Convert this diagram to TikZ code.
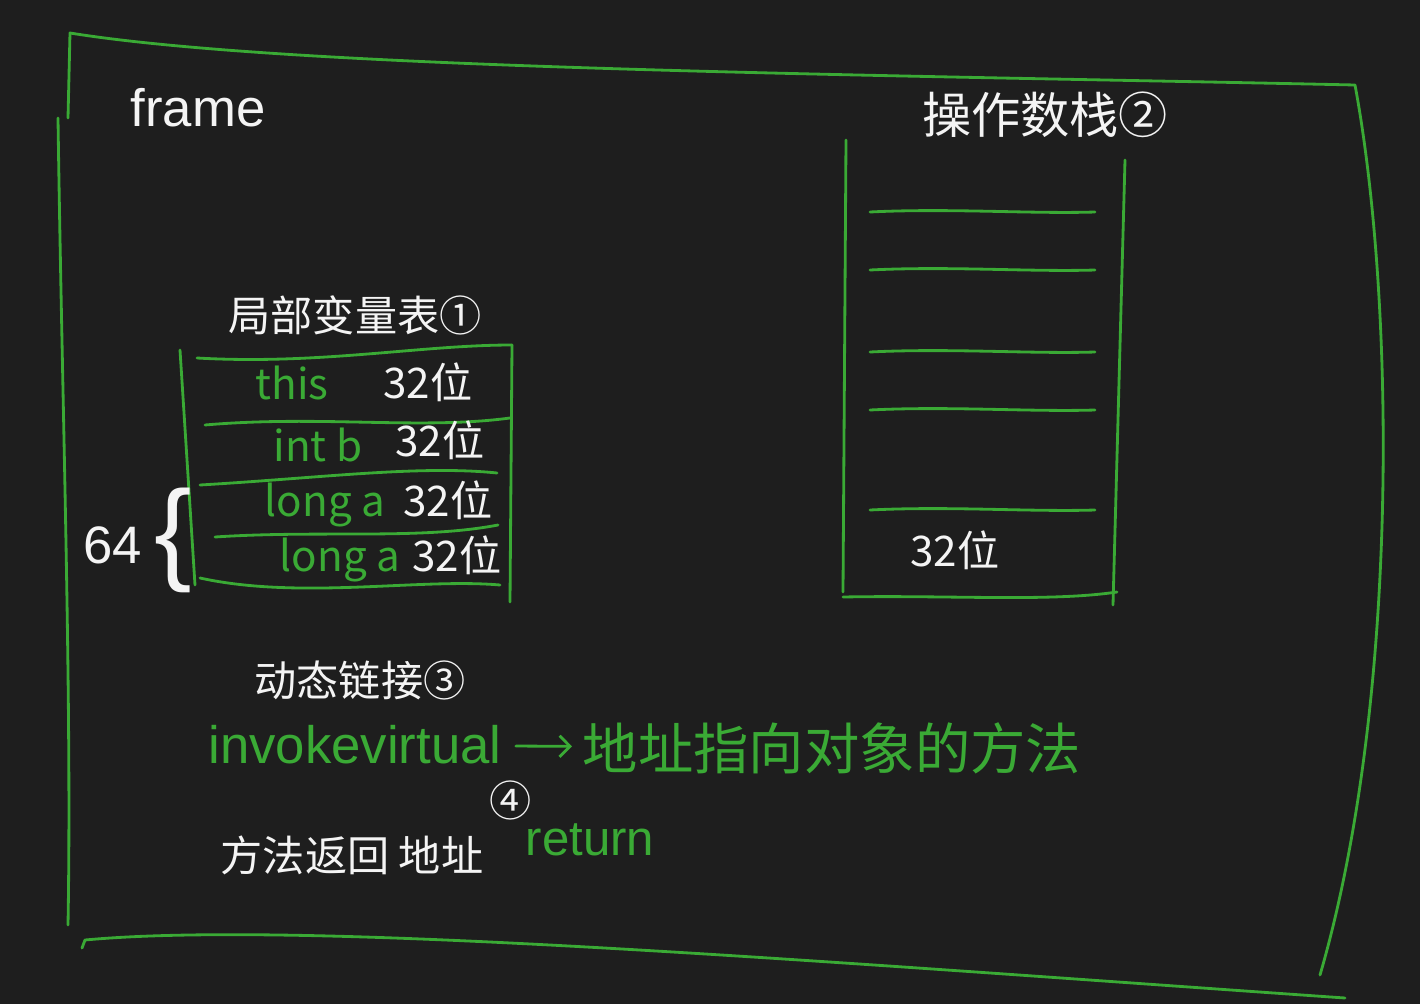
\documentclass[tikz,border=0pt]{standalone}
\usepackage{fontspec}
\setmainfont{Liberation Sans}
\newfontfamily\cjk{Noto Sans CJK SC}
\usetikzlibrary{positioning, arrows.meta}
\definecolor{board}{HTML}{1E1E1E}
\definecolor{chalk}{HTML}{F4F4F4}
\definecolor{pen}{HTML}{3AAA35}

\begin{document}
\begin{tikzpicture}[x=0.02cm, y=-0.02cm,
    penline/.style={draw=pen, line width=1.6pt, line cap=round, line join=round},
    wlabel/.style={text=chalk, inner sep=0pt, font=\cjk\fontsize{24}{28}\selectfont},
    glabel/.style={text=pen, inner sep=0pt, font=\cjk\fontsize{24}{28}\selectfont}]
    \fill[board] (0,0) rectangle (1420,1004);
    \useasboundingbox (0,0) rectangle (1420,1004);

    % frame outline
    \draw[penline] (68,118) -- (70,33) .. controls (300,70) and (900,75) .. (1355,85)
      .. controls (1395,300) and (1400,700) .. (1320,975);
    \draw[penline] (58,118) .. controls (62,400) and (72,700) .. (68,925);
    \draw[penline] (82,948) -- (85,940) .. controls (300,920) and (800,960) .. (1345,998);
    \node[wlabel, font=\fontsize{30}{34}\selectfont] (frame) at (198,108) {frame};

    % local variable table
    \node[wlabel] (lvt) at (355,315) {局部变量表①};
    \draw[penline] (180,350) -- (195,585);
    \draw[penline] (512,345) -- (510,602);
    \draw[penline] (197,358) .. controls (320,365) and (420,345) .. (512,345);
    \draw[penline] (205,425) .. controls (320,415) and (420,430) .. (510,418);
    \draw[penline] (200,485) .. controls (320,478) and (420,465) .. (497,473);
    \draw[penline] (215,537) .. controls (320,530) and (420,540) .. (498,525);
    \draw[penline] (200,578) .. controls (300,600) and (420,578) .. (500,585);
    \node[glabel] (this) at (292,383) {this};
    \node[wlabel] (w1) at (428,382) {32位};
    \node[glabel] (intb) at (318,445) {int b};
    \node[wlabel] (w2) at (440,440) {32位};
    \node[glabel] (longa1) at (325,505) {long a};
    \node[wlabel] (w3) at (448,500) {32位};
    \node[glabel] (longa2) at (340,560) {long a};
    \node[wlabel] (w4) at (457,555) {32位};
    \node[text=chalk, inner sep=0pt, font=\fontsize{64}{64}\selectfont] (brace) at (173,540) {\{};
    \node[wlabel, font=\fontsize{30}{34}\selectfont] (sixtyfour) at (113,545) {64};

    % operand stack
    \node[wlabel, font=\cjk\fontsize{28}{32}\selectfont] (stack) at (1045,115) {操作数栈②};
    \draw[penline] (846,140) -- (843,592);
    \draw[penline] (1125,160) -- (1113,605);
    \foreach \y in {212,270,352,410,510}
      \draw[penline] (870,\y) .. controls (950,\y-4) and (1030,\y+2) .. (1095,\y);
    \draw[penline] (843,597) .. controls (950,595) and (1050,602) .. (1117,592);
    \node[wlabel] (w5) at (955,550) {32位};

    % dynamic linking
    \node[wlabel] (dyn) at (360,680) {动态链接③};
    \node[glabel, font=\fontsize{30}{34}\selectfont] (invoke) at (355,745) {invokevirtual};
    \node[glabel, font=\cjk\fontsize{31.5}{36}\selectfont] (target) at (832,748) {地址指向对象的方法};
    \draw[penline, -{Straight Barb[length=6pt]}, shorten <=8pt, shorten >=6pt] (invoke) -- (target);

    % return address
    \node[wlabel] (ret) at (352,855) {方法返回\ 地址};
    \node[wlabel] (four) at (511,800) {④};
    \node[glabel, font=\fontsize{28}{32}\selectfont] (return) at (590,840) {return};
\end{tikzpicture}
\end{document}
